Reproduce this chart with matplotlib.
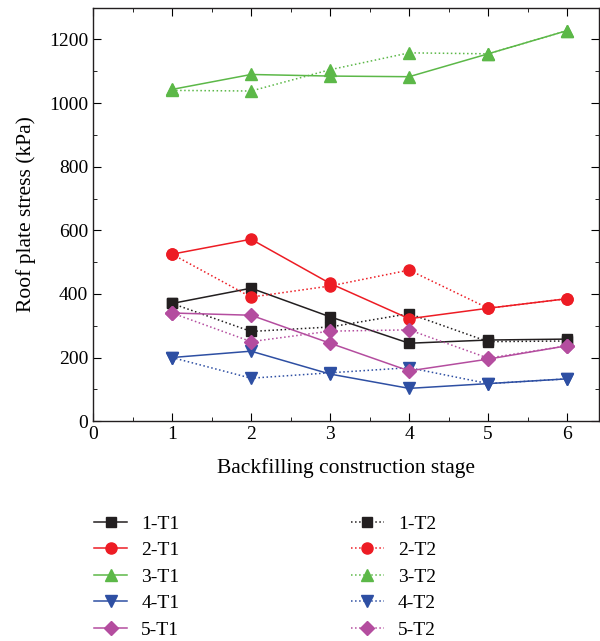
import matplotlib
matplotlib.use('Agg')
import matplotlib.pyplot as plt
from matplotlib.ticker import MultipleLocator

plt.rcParams['font.family'] = ['Liberation Serif', 'DejaVu Serif']

stages = [1, 2, 3, 4, 5, 6]

s1_t1 = [370, 418, 328, 245, 255, 258]
s1_t2 = [370, 282, 296, 338, 250, 252]
s2_t1 = [525, 572, 433, 322, 355, 385]
s2_t2 = [525, 390, 425, 475, 355, 385]
s3_t1 = [1043, 1090, 1085, 1083, 1155, 1228]
s3_t2 = [1040, 1038, 1105, 1158, 1155, 1228]
s4_t1 = [200, 220, 148, 103, 118, 133]
s4_t2 = [200, 135, 152, 168, 118, 133]
s5_t1 = [340, 333, 245, 158, 195, 237]
s5_t2 = [340, 250, 283, 287, 198, 237]

labels = ['1', '2', '3', '4', '5']
colors = ['#231f20', '#ed1c24', '#5cb848', '#2e4fa3', '#b44d9f']
markers = ['s', 'o', '^', 'v', 'D']
sizes = [7, 8, 9, 9, 7]
t1 = [s1_t1, s2_t1, s3_t1, s4_t1, s5_t1]
t2 = [s1_t2, s2_t2, s3_t2, s4_t2, s5_t2]

fig = plt.figure(figsize=(6.0, 6.41), dpi=100)
ax = fig.add_axes([0.155, 0.343, 0.843, 0.645])

h1, h2 = [], []
for lab, c, m, ms, a, b in zip(labels, colors, markers, sizes, t1, t2):
    l, = ax.plot(stages, a, color=c, marker=m, markersize=ms, linewidth=1.1,
                 label=f'{lab}-T1')
    d, = ax.plot(stages, b, color=c, marker=m, markersize=ms, linewidth=1.1,
                 linestyle=':', label=f'{lab}-T2')
    h1.append(l)
    h2.append(d)

ax.set_xlim(0, 6.4)
ax.set_ylim(0, 1300)
ax.xaxis.set_major_locator(MultipleLocator(1))
ax.xaxis.set_minor_locator(MultipleLocator(0.5))
ax.yaxis.set_major_locator(MultipleLocator(200))
ax.yaxis.set_minor_locator(MultipleLocator(100))
ax.tick_params(which='both', direction='in', top=True, right=True, labelsize=14)
ax.tick_params(which='major', length=6)
ax.tick_params(which='minor', length=3)
for sp in ax.spines.values():
    sp.set_color('#231f20')
    sp.set_linewidth(1.0)

ax.set_xlabel('Backfilling construction stage', fontsize=15.5, labelpad=11)
ax.set_ylabel('Roof plate stress (kPa)', fontsize=15.5, labelpad=9)

fig.legend(h1 + h2, [h.get_label() for h in h1 + h2], ncol=2,
           loc='upper left', bbox_to_anchor=(0.128, 0.224), frameon=False,
           numpoints=1, fontsize=14, handlelength=1.7, handletextpad=0.72,
           columnspacing=8.8, labelspacing=0.46, borderpad=0.4)

fig.savefig('out.png', dpi=100)
